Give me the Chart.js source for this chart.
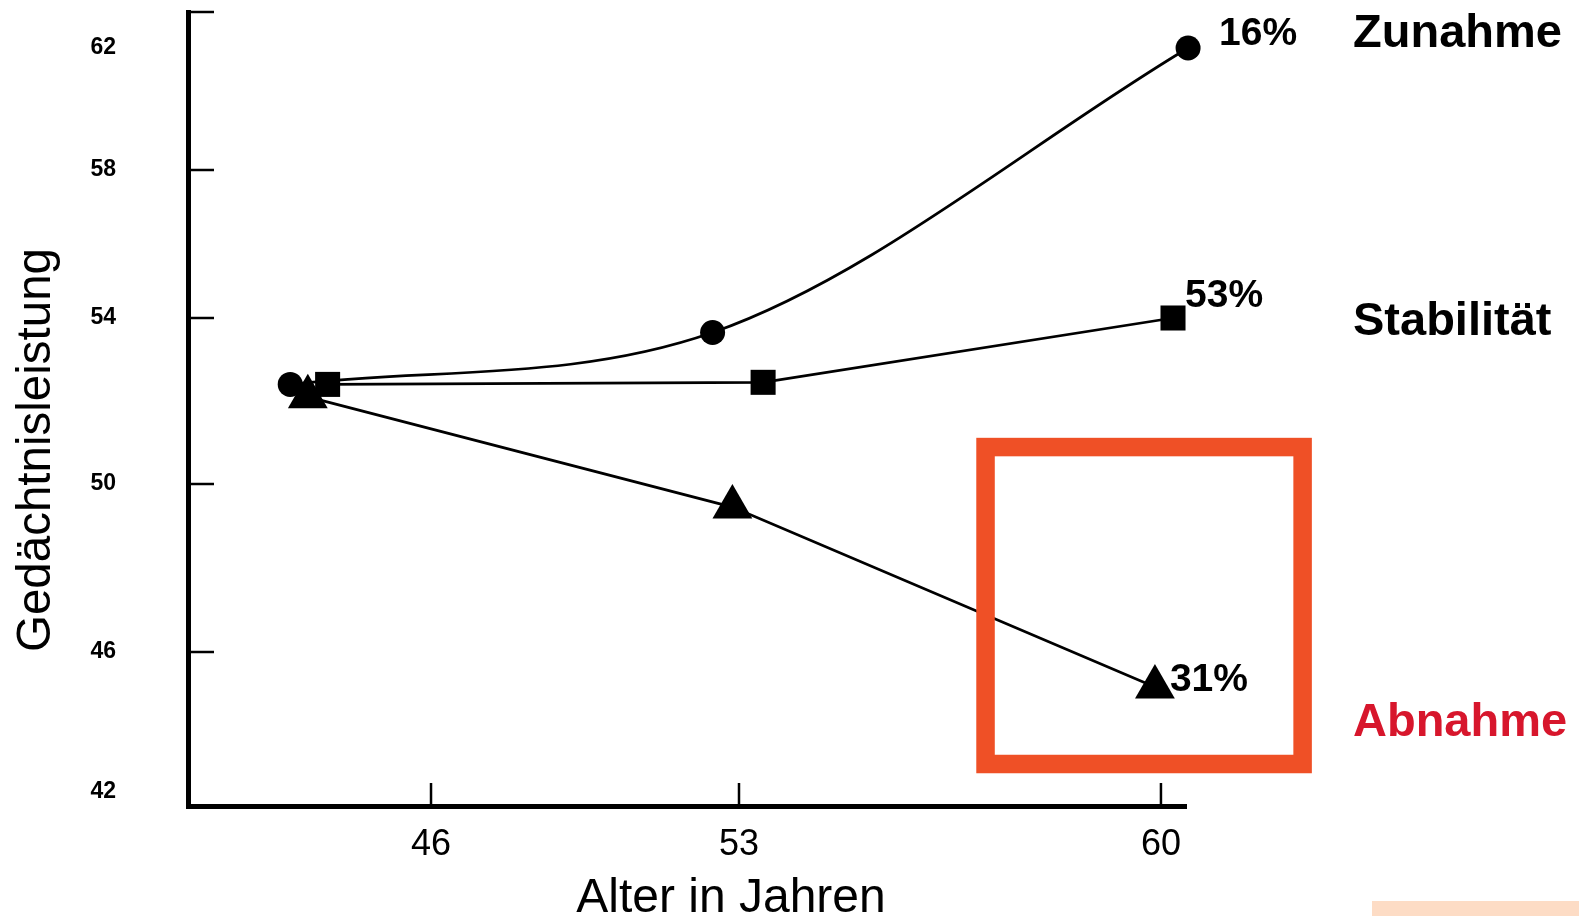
<!DOCTYPE html>
<html lang="de">
<head>
<meta charset="utf-8">
<title>Gedächtnisleistung nach Alter</title>
<script src="https://cdn.jsdelivr.net/npm/chart.js@4.4.1/dist/chart.umd.min.js"></script>
<style>
  html, body { margin: 0; padding: 0; background: #fff; }
  #rahmen { position: relative; width: 1579px; height: 916px; }
  canvas { display: block; }
</style>
</head>
<body>
<div id="rahmen"><canvas id="diagramm" width="1579" height="916"></canvas></div>
<script>
// Verlaufsgruppen der Gedächtnisleistung über drei Messzeitpunkte
const gruppen = ['Zunahme', 'Stabilität', 'Abnahme'];
const gruppenAnteile = ['16%', '53%', '31%'];

// Alter (Jahre) und Gedächtnisleistung je Gruppe und Messzeitpunkt
const alterZunahme = [42.8, 52.4, 60.45];
const leistungZunahme = [52.4, 53.65, 62.0];
const alterStabilitaet = [43.65, 53.4, 60.2];
const leistungStabilitaet = [52.4, 52.45, 54.0];
const alterAbnahme = [43.2, 52.85, 59.9];
const leistungAbnahme = [52.1, 49.45, 45.0];

// Achsenbeschriftungen
const alterTicks = [46, 53, 60];
const leistungTicks = [42, 46, 50, 54, 58, 62];

const schrift = 'Arial, "Liberation Sans", Helvetica, sans-serif';

// Stückweise lineare Abbildung zwischen Stützstellen (mit Fortsetzung an den Enden)
function stueckweise(von, nach, v) {
  const n = von.length;
  let i = 0;
  if (v >= von[n - 1]) i = n - 2;
  else while (i < n - 2 && v > von[i + 1]) i++;
  const t = (v - von[i]) / (von[i + 1] - von[i]);
  return nach[i] + t * (nach[i + 1] - nach[i]);
}

// Achse, deren Teilung über Stützstellen festgelegt wird
class StuetzstellenSkala extends Chart.LinearScale {
  getPixelForValue(value) {
    if (value === null || value === undefined || isNaN(value)) return NaN;
    const o = this.options;
    return this.getPixelForDecimal(stueckweise(o.stuetzWerte, o.stuetzAnteile, value));
  }
  getValueForPixel(pixel) {
    const o = this.options;
    return stueckweise(o.stuetzAnteile, o.stuetzWerte, this.getDecimalForPixel(pixel));
  }
}
StuetzstellenSkala.id = 'stuetzstellen';
StuetzstellenSkala.defaults = Chart.LinearScale.defaults;
Chart.register(StuetzstellenSkala);

const punkte = (alter, leistung) => alter.map((a, i) => ({ x: a, y: leistung[i] }));

function reihe(i, alter, leistung, stil, radius, glatt) {
  return {
    label: gruppen[i],
    data: punkte(alter, leistung),
    borderColor: '#000',
    backgroundColor: '#000',
    borderWidth: 2.7,
    pointStyle: stil,
    pointRadius: radius,
    pointBackgroundColor: '#000',
    pointBorderColor: '#000',
    pointBorderWidth: 0,
    cubicInterpolationMode: glatt ? 'monotone' : 'default',
    tension: 0,
    clip: false,
    fill: false
  };
}

function linie(ctx, x1, y1, x2, y2) {
  ctx.beginPath();
  ctx.moveTo(x1, y1);
  ctx.lineTo(x2, y2);
  ctx.stroke();
}

// Teilstriche, Beschriftungen, Markierungsrahmen und Achsentitel
const zusatz = {
  id: 'zusatz',
  afterDraw(chart, args, opt) {
    const { ctx, chartArea: ca, scales: { x, y } } = chart;
    ctx.save();

    // nach innen zeigende Teilstriche und oberer Abschluss der y-Achse
    ctx.strokeStyle = '#000';
    ctx.lineWidth = opt.strichBreite;
    linie(ctx, ca.left, ca.top, ca.left + opt.strichLaengeY, ca.top);
    y.ticks.forEach((t, i) => {
      if (i === 0 || i === y.ticks.length - 1) return;
      const py = y.getPixelForTick(i);
      linie(ctx, ca.left, py, ca.left + opt.strichLaengeY, py);
    });
    x.ticks.forEach((t, i) => {
      const px = x.getPixelForTick(i);
      linie(ctx, px, ca.bottom, px, ca.bottom - opt.strichLaengeX);
    });

    // Anteile neben dem letzten Punkt jeder Gruppe
    ctx.fillStyle = '#000';
    ctx.textAlign = 'left';
    ctx.textBaseline = 'alphabetic';
    ctx.font = 'bold 39px ' + schrift;
    chart.data.datasets.forEach((ds, i) => {
      const meta = chart.getDatasetMeta(i);
      const p = meta.data[meta.data.length - 1];
      const [dx, dy] = opt.anteilVersatz[i];
      ctx.fillText(gruppenAnteile[i], p.x + dx, p.y + dy);
    });

    // Gruppenbezeichnungen rechts
    ctx.font = 'bold 47px ' + schrift;
    gruppen.forEach((g, i) => {
      ctx.fillStyle = opt.gruppenFarben[i];
      ctx.fillText(g, opt.gruppenX, y.getPixelForValue(opt.gruppenHoehe[i]));
    });

    // Markierungsrahmen um den Endpunkt der Abnahme-Gruppe
    const r = opt.rahmen;
    const rx1 = x.getPixelForValue(r.alter[0]), rx2 = x.getPixelForValue(r.alter[1]);
    const ry1 = y.getPixelForValue(r.leistung[1]), ry2 = y.getPixelForValue(r.leistung[0]);
    ctx.strokeStyle = r.farbe;
    ctx.lineWidth = r.breite;
    ctx.lineJoin = 'miter';
    ctx.strokeRect(rx1, ry1, rx2 - rx1, ry2 - ry1);

    // Achsentitel
    ctx.fillStyle = '#000';
    ctx.textAlign = 'center';
    ctx.font = '48px ' + schrift;
    ctx.fillText('Alter in Jahren', opt.titelX.x, opt.titelX.y);
    ctx.save();
    ctx.translate(opt.titelY.x, opt.titelY.y);
    ctx.rotate(-Math.PI / 2);
    ctx.font = '47.5px ' + schrift;
    ctx.fillText('Gedächtnisleistung', 0, 0);
    ctx.restore();

    // Fußleiste unten rechts
    ctx.fillStyle = '#FDDCC5';
    ctx.fillRect(chart.width - 207, chart.height - 15, 207, 15);

    ctx.restore();
  }
};

new Chart(document.getElementById('diagramm'), {
  type: 'line',
  data: {
    datasets: [
      reihe(0, alterZunahme, leistungZunahme, 'circle', 12.5, true),
      reihe(1, alterStabilitaet, leistungStabilitaet, 'rect', 17.7, false),
      reihe(2, alterAbnahme, leistungAbnahme, 'triangle', 23, false)
    ]
  },
  options: {
    responsive: false,
    animation: false,
    events: [],
    layout: { autoPadding: false, padding: { left: 0, top: 12, right: 393, bottom: 0 } },
    elements: { line: { capBezierPoints: false } },
    plugins: {
      colors: { enabled: false },
      legend: { display: false },
      tooltip: { enabled: false },
      zusatz: {
        strichBreite: 2.5,
        strichLaengeY: 26,
        strichLaengeX: 23,
        anteilVersatz: [[31, -3], [12, -11], [15, 4]],
        gruppenX: 1353,
        gruppenHoehe: [62.03, 53.58, 43.61],
        gruppenFarben: ['#000', '#000', '#D7162C'],
        rahmen: { alter: [57.09, 62.35], leistung: [42.8, 50.89], farbe: '#EF5026', breite: 18.5 },
        titelX: { x: 731, y: 912 },
        titelY: { x: 50, y: 450 }
      }
    },
    scales: {
      x: {
        type: 'stuetzstellen',
        position: 'bottom',
        min: 40.48, max: 60.42,
        stuetzWerte: alterTicks,
        stuetzAnteile: [0.2435, 0.5521, 0.9749],
        afterBuildTicks: s => { s.ticks = alterTicks.map(v => ({ value: v })); },
        afterFit: s => { s.height = 110; s.paddingLeft = 0; s.paddingRight = 0; },
        grid: { display: false, drawTicks: false },
        border: { display: true, color: '#000', width: 5 },
        ticks: {
          padding: 17, color: '#000', autoSkip: false, maxRotation: 0,
          font: { family: schrift, size: 36 },
          callback: v => String(v)
        }
      },
      y: {
        type: 'stuetzstellen',
        position: 'left',
        min: 41.6, max: 63.1,
        stuetzWerte: leistungTicks,
        stuetzAnteile: [0.01763, 0.19395, 0.40554, 0.61461, 0.80101, 0.95466],
        afterBuildTicks: s => { s.ticks = leistungTicks.map(v => ({ value: v })); },
        afterFit: s => { s.width = 188; s.paddingTop = 0; s.paddingBottom = 0; },
        grid: { display: false, drawTicks: false },
        border: { display: true, color: '#000', width: 5 },
        ticks: {
          padding: 72, color: '#000', autoSkip: false,
          font: { family: schrift, size: 23, weight: 'bold' },
          callback: v => String(v)
        }
      }
    }
  },
  plugins: [zusatz]
});
</script>
</body>
</html>
